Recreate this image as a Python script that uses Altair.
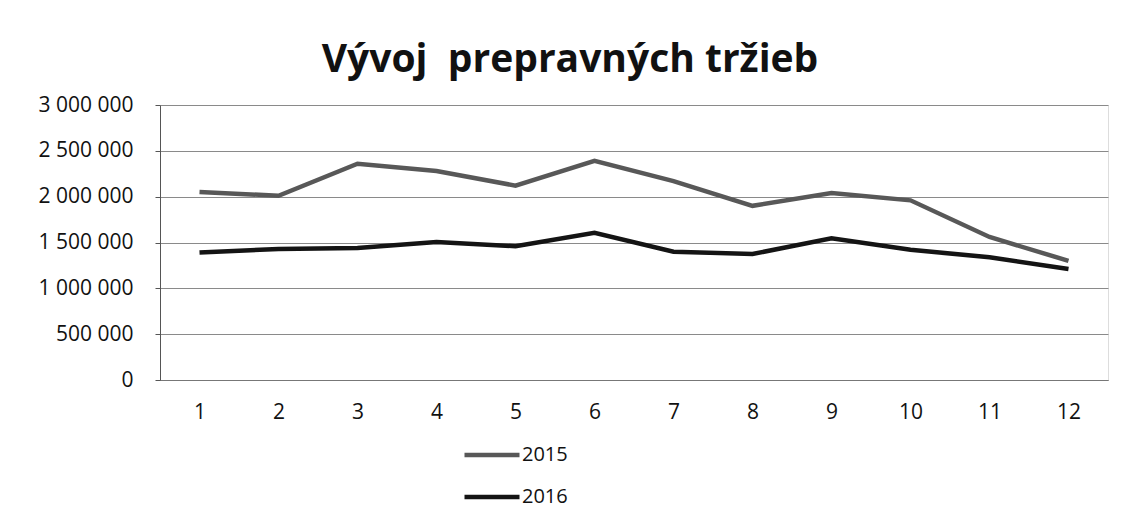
import altair as alt
import pandas as pd

months = [1, 2, 3, 4, 5, 6, 7, 8, 9, 10, 11, 12]
sales_2015 = [2050000, 2010000, 2360000, 2280000, 2120000, 2390000, 2170000, 1900000, 2040000, 1960000, 1560000, 1300000]
sales_2016 = [1390000, 1430000, 1440000, 1505000, 1460000, 1605000, 1400000, 1375000, 1545000, 1420000, 1340000, 1210000]
series = ["2015", "2016"]
y_ticks = [0, 500000, 1000000, 1500000, 2000000, 2500000, 3000000]

rows = []
for m, v in zip(months, sales_2015):
    rows.append({"mesiac": m, "trzby": v, "rok": series[0]})
for m, v in zip(months, sales_2016):
    rows.append({"mesiac": m, "trzby": v, "rok": series[1]})
df = pd.DataFrame(rows)

FONT = "Open Sans"

chart = alt.Chart(df).mark_line(strokeWidth=4.5).encode(
    x=alt.X("mesiac:O", title=None,
            scale=alt.Scale(type="point", padding=0.5),
            axis=alt.Axis(labelAngle=0, ticks=False, grid=False, domainColor="#777777",
                          labelFontSize=21, labelPadding=21, labelColor="#111111", labelFont=FONT)),
    y=alt.Y("trzby:Q", title=None,
            scale=alt.Scale(domain=[0, 3000000]),
            axis=alt.Axis(values=y_ticks, tickSize=5, tickColor="#555555", domainColor="#555555",
                          gridColor="#8a8a8a", gridWidth=1, labelFontSize=21, labelPadding=22,
                          labelColor="#111111", labelFont=FONT,
                          labelExpr="replace(replace(format(datum.value, ','), ',', ' '), ',', ' ')")),
    color=alt.Color("rok:N", title=None,
                    scale=alt.Scale(domain=series, range=["#585858", "#141414"]),
                    legend=alt.Legend(orient="none", legendX=302, legendY=339, direction="vertical",
                                      symbolType="stroke", symbolSize=3025, symbolStrokeWidth=4.5,
                                      labelFontSize=20, labelFont=FONT, labelColor="#111111",
                                      clipHeight=22, rowPadding=20, labelOffset=0)),
).properties(
    width=948, height=275,
    title=alt.TitleParams("Vývoj\u00a0 prepravných tržieb", fontSize=39, font=FONT, fontWeight="bold",
                          color="#111111", anchor="middle", dx=-64, offset=14),
    padding={"left": 152, "top": 97, "right": 20, "bottom": 129},
    autosize="none",
).configure_view(stroke=None).configure(background="white")

chart.save("out.html", embed_options={"renderer": "svg", "actions": False})
